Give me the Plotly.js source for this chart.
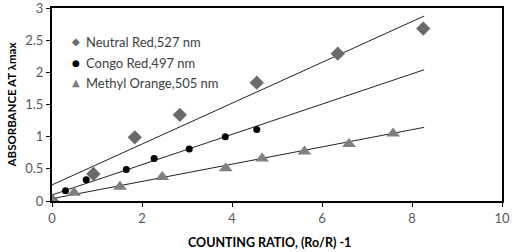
<!DOCTYPE html>
<html><head><meta charset="utf-8">
<script src="https://cdn.plot.ly/plotly-3.0.1.min.js"></script>
<style>html,body{margin:0;padding:0;background:#fff}#c{width:512px;height:252px}</style>
</head><body><div id="c"></div>
<script>
const neutralX = [0, 0.92, 1.84, 2.84, 4.55, 6.35, 8.25];
const neutralY = [0, 0.42, 0.99, 1.34, 1.84, 2.29, 2.68];
const congoX = [0, 0.30, 0.76, 1.65, 2.27, 3.05, 3.85, 4.55];
const congoY = [0, 0.16, 0.33, 0.49, 0.66, 0.81, 1.00, 1.11];
const methylX = [0, 0.49, 1.51, 2.45, 3.86, 4.67, 5.61, 6.60, 7.58];
const methylY = [0, 0.13, 0.22, 0.375, 0.51, 0.66, 0.77, 0.885, 1.05];
const trendX = [0, 8.27];
const neutralTrend = [0.25, 2.875];
const congoTrend = [0.094, 2.04];
const methylTrend = [0.036, 1.145];
const seriesNames = ["Neutral Red,527 nm", "Congo Red,497 nm", "Methyl Orange,505 nm"];
const seriesColors = ['#6a6a6a', '#000000', '#808080'];
const legendSymbols = ['◆', '●', '▲'];
const xTitle = 'COUNTING RATIO, (Ro/R) -1';
const yTitle = 'ABSORBANCE AT λmax';

const lineStyle = {color: '#222', width: 1};
const traces = [
  {x: trendX, y: neutralTrend, mode: 'lines', line: lineStyle, hoverinfo: 'skip'},
  {x: trendX, y: congoTrend, mode: 'lines', line: lineStyle, hoverinfo: 'skip'},
  {x: trendX, y: methylTrend, mode: 'lines', line: lineStyle, hoverinfo: 'skip'},
  {x: neutralX, y: neutralY, name: seriesNames[0], mode: 'markers', marker: {symbol: 'diamond', size: 11, color: seriesColors[0]}},
  {x: congoX, y: congoY, name: seriesNames[1], mode: 'markers', marker: {symbol: 'circle', size: 7, color: seriesColors[1]}},
  {x: methylX, y: methylY, name: seriesNames[2], mode: 'markers', marker: {symbol: 'triangle-up', size: 12, color: seriesColors[2]}}
];

// custom legend (positions in paper coordinates)
const legendRowsY = [0.825, 0.717, 0.613];
const annotations = [];
seriesNames.forEach((n, i) => {
  annotations.push({xref: 'paper', yref: 'paper', x: 0.053, y: legendRowsY[i], xanchor: 'center', yanchor: 'middle',
    text: legendSymbols[i], showarrow: false, font: {size: i === 1 ? 9 : 10, color: seriesColors[i], family: 'DejaVu Sans'}});
  annotations.push({xref: 'paper', yref: 'paper', x: 0.071, y: legendRowsY[i], xanchor: 'left', yanchor: 'middle',
    text: n, showarrow: false, font: {size: 13, color: '#404040', family: 'Lato, sans-serif'}});
});
annotations.push({xref: 'paper', yref: 'paper', x: 0.483, y: -0.215, xanchor: 'center', yanchor: 'middle',
  text: '<b>' + xTitle + '</b>', showarrow: false, font: {size: 12.5, color: '#000', family: 'Lato, sans-serif'}});

const layout = {
  width: 512, height: 252,
  margin: {l: 52, r: 10, t: 8, b: 51},
  paper_bgcolor: '#fff', plot_bgcolor: '#fff',
  font: {family: 'Lato, "Open Sans", sans-serif', size: 12, color: '#595959'},
  showlegend: false,
  annotations: annotations,
  xaxis: {range: [0, 10], dtick: 2, tick0: 0, showgrid: false, zeroline: false,
          showline: true, linecolor: '#000', linewidth: 2, mirror: true,
          ticks: 'outside', ticklen: 4, tickcolor: '#000', tickwidth: 1,
          ticklabeloverflow: 'allow',
          tickfont: {size: 13, color: '#595959'}},
  yaxis: {range: [0, 3], dtick: 0.5, showgrid: false, zeroline: false,
          showline: true, linecolor: '#000', linewidth: 2, mirror: true,
          ticks: 'outside', ticklen: 4, tickcolor: '#000', tickwidth: 1,
          ticklabeloverflow: 'allow',
          tickfont: {size: 13, color: '#595959'},
          title: {text: yTitle, font: {size: 11.5, color: '#000', family: 'Lato, sans-serif', weight: 'bold'}, standoff: 6}}
};
Plotly.newPlot('c', traces, layout, {displayModeBar: false, staticPlot: true});
</script></body></html>
